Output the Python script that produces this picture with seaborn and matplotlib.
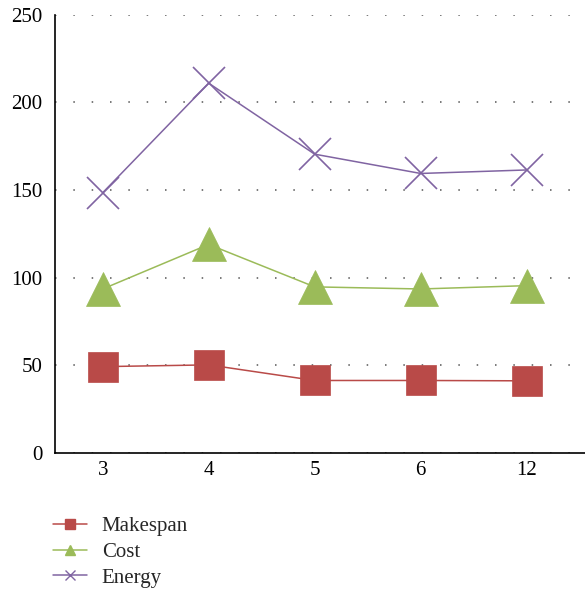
import matplotlib
matplotlib.use("Agg")
import matplotlib.pyplot as plt
from matplotlib.lines import Line2D
import seaborn as sns
import pandas as pd

categories = ["3", "4", "5", "6", "12"]
makespan = [49.3, 50.3, 41.4, 41.4, 41.2]
cost = [93.6, 119.0, 94.8, 93.6, 95.5]
energy = [148.5, 211.0, 170.5, 159.5, 161.5]

series_names = ["Makespan", "Cost", "Energy"]
colors = ["#B94A48", "#9BBB59", "#8064A2"]
markers = ["s", "^", "x"]
msizes = [21, 25, 23]

sns.set_theme(style="white")
plt.rcParams["font.family"] = ["Liberation Serif", "DejaVu Serif"]

fig = plt.figure(figsize=(5.85, 5.93), dpi=100)
ax = fig.add_axes([0.094, 0.236, 0.906, 0.739])

pos = list(range(len(categories)))
for name, vals, c, m, ms in zip(series_names, [makespan, cost, energy], colors, markers, msizes):
    df = pd.DataFrame({"x": pos, "y": vals})
    sns.lineplot(data=df, x="x", y="y", ax=ax, color=c, linewidth=1.1,
                 marker=m, markersize=ms, markeredgecolor=c,
                 markeredgewidth=1.2 if m == "x" else 0.5, legend=False)

ax.set_xlim(-0.45, 4.55)
ax.set_ylim(0, 250)
ax.set_yticks([0, 50, 100, 150, 200, 250])
ax.set_xticks(pos)
ax.set_xticklabels(categories)
ax.set_xlabel("")
ax.set_ylabel("")
ax.tick_params(axis="y", length=0, labelsize=15, colors="black", pad=9)
ax.tick_params(axis="x", length=0, labelsize=15, colors="black", pad=6)
ax.yaxis.grid(True, linestyle=(0, (1, 11)), color="#555555", linewidth=1.1)
ax.xaxis.grid(False)
for s in ["top", "right"]:
    ax.spines[s].set_visible(False)
for s in ["left", "bottom"]:
    ax.spines[s].set_color("black")
    ax.spines[s].set_linewidth(1.2)

handles = [Line2D([0], [0], color=c, marker=m, markersize=7, linewidth=1.1,
                  markeredgecolor=c, markeredgewidth=1.0)
           for c, m in zip(colors, markers)]
fig.legend(handles, series_names, loc="upper left", bbox_to_anchor=(0.076, 0.143),
           frameon=False, fontsize=15, handlelength=1.65, handletextpad=0.7,
           labelspacing=0.3, borderaxespad=0)

fig.savefig("out.png", dpi=100)
